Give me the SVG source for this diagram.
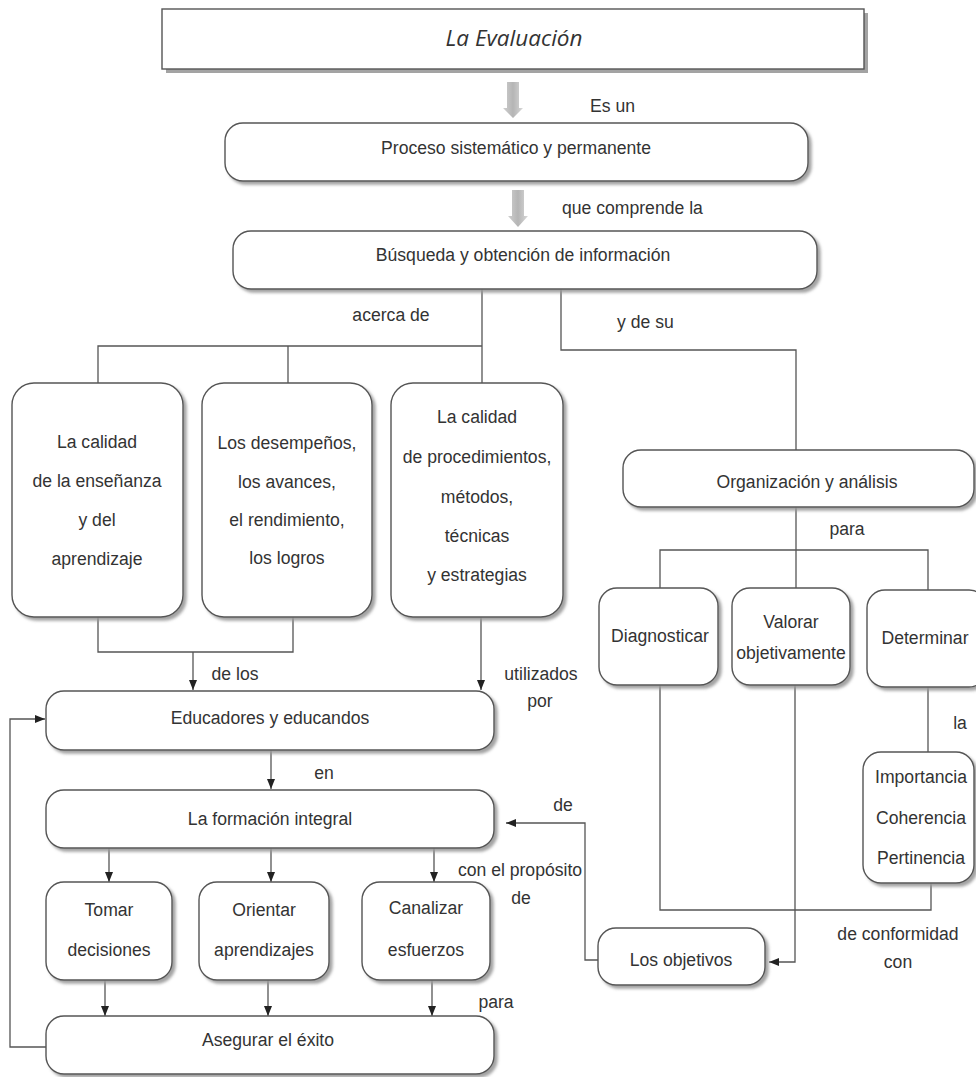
<svg xmlns="http://www.w3.org/2000/svg" width="976" height="1077" viewBox="0 0 976 1077">
<defs>
<style>
.box{fill:#fff;stroke:#555;stroke-width:1.4;filter:url(#sh)}
.t{font-family:'Liberation Sans',Arial,sans-serif;font-size:17.6px;fill:#333;text-anchor:middle}
.l{font-family:'Liberation Sans',Arial,sans-serif;font-size:17.6px;fill:#333}
.c{fill:none;stroke:#555;stroke-width:1.3}
.a{marker-end:url(#ah)}
.title{font-family:'Open Sans','DejaVu Sans',sans-serif;font-style:italic;font-size:22.5px;fill:#333;text-anchor:middle}
</style>
<filter id="sh" x="-5%" y="-5%" width="115%" height="125%">
<feDropShadow dx="3" dy="3" stdDeviation="1.5" flood-color="#999" flood-opacity="0.9"/>
</filter>
<linearGradient id="bg" x1="0" x2="1" y1="0" y2="0">
<stop offset="0" stop-color="#cfcfcf"/>
<stop offset="0.5" stop-color="#b5b5b5"/>
<stop offset="1" stop-color="#d8d8d8"/>
</linearGradient>
<marker id="ah" markerUnits="userSpaceOnUse" markerWidth="10" markerHeight="10" viewBox="0 0 10 10" refX="10" refY="5" orient="auto">
<path d="M0,1 L10,5 L0,9 Z" fill="#222"/>
</marker>
</defs>
<rect width="976" height="1077" fill="#fff"/>

<g id="connectors">
<polygon points="507,82 519,82 519,108 523,108 513,118 503,108 507,108" fill="url(#bg)"/>
<polygon points="512,190 524,190 524,216 528,216 518,227 508,216 512,216" fill="url(#bg)"/>
<path class="c" d="M482,289 V383"/>
<path class="c" d="M98,383 V346 H482"/>
<path class="c" d="M288,346 V383"/>
<path class="c" d="M561,289 V350 H796 V450"/>
<path class="c" d="M98,617 V652 H293 V617"/>
<path class="c a" d="M193,652 V690"/>
<path class="c a" d="M481,617 V690"/>
<path class="c a" d="M271,750 V789"/>
<path class="c a" d="M109,848 V882"/>
<path class="c a" d="M271,848 V882"/>
<path class="c a" d="M434,848 V882"/>
<path class="c a" d="M105,980 V1016"/>
<path class="c a" d="M268,980 V1016"/>
<path class="c a" d="M432,980 V1016"/>
<path class="c a" d="M46,1047 H10 V719 H45"/>
<path class="c" d="M796,507 V588"/>
<path class="c" d="M660,588 V550 H928 V590"/>
<path class="c" d="M928,687 V752"/>
<path class="c" d="M660,685 V910 H931 V883"/>
<path class="c a" d="M795,685 V962 H769"/>
<path class="c a" d="M598,960 H585 V823 H506"/>
</g>

<g id="n-title">
<rect x="166" y="13" width="702" height="60" fill="#a3a3a3"/>
<rect x="162" y="9" width="702" height="60" fill="#fff" stroke="#555" stroke-width="1.4"/>
<text class="title" x="514" y="46">La Evaluación</text>
</g>
<g id="n-proceso">
<rect class="box" x="225" y="123" width="583" height="58" rx="18"/>
<text class="t" x="516" y="154">Proceso sistemático y permanente</text>
</g>
<g id="n-busqueda">
<rect class="box" x="233" y="231" width="584" height="58" rx="18"/>
<text class="t" x="523" y="261">Búsqueda y obtención de información</text>
</g>
<g id="n-calidad-ens">
<rect class="box" x="12" y="383" width="171" height="234" rx="22"/>
<text class="t" x="97" y="448">La calidad</text>
<text class="t" x="97" y="487">de la enseñanza</text>
<text class="t" x="97" y="526">y del</text>
<text class="t" x="97" y="565">aprendizaje</text>
</g>
<g id="n-desempenos">
<rect class="box" x="202" y="383" width="170" height="234" rx="22"/>
<text class="t" x="287" y="449">Los desempeños,</text>
<text class="t" x="287" y="488">los avances,</text>
<text class="t" x="287" y="526">el rendimiento,</text>
<text class="t" x="287" y="564">los logros</text>
</g>
<g id="n-calidad-proc">
<rect class="box" x="391" y="383" width="172" height="234" rx="22"/>
<text class="t" x="477" y="423">La calidad</text>
<text class="t" x="477" y="463">de procedimientos,</text>
<text class="t" x="477" y="503">métodos,</text>
<text class="t" x="477" y="542">técnicas</text>
<text class="t" x="477" y="581">y estrategias</text>
</g>
<g id="n-educadores">
<rect class="box" x="46" y="691" width="448" height="59" rx="18"/>
<text class="t" x="270" y="724">Educadores y educandos</text>
</g>
<g id="n-formacion">
<rect class="box" x="46" y="790" width="448" height="58" rx="18"/>
<text class="t" x="270" y="825">La formación integral</text>
</g>
<g id="n-tomar">
<rect class="box" x="46" y="882" width="126" height="98" rx="18"/>
<text class="t" x="109" y="916">Tomar</text>
<text class="t" x="109" y="956">decisiones</text>
</g>
<g id="n-orientar">
<rect class="box" x="199" y="882" width="130" height="98" rx="18"/>
<text class="t" x="264" y="916">Orientar</text>
<text class="t" x="264" y="956">aprendizajes</text>
</g>
<g id="n-canalizar">
<rect class="box" x="362" y="882" width="128" height="98" rx="18"/>
<text class="t" x="426" y="914">Canalizar</text>
<text class="t" x="426" y="956">esfuerzos</text>
</g>
<g id="n-asegurar">
<rect class="box" x="46" y="1016" width="448" height="58" rx="18"/>
<text class="t" x="268" y="1046">Asegurar el éxito</text>
</g>
<g id="n-organizacion">
<rect class="box" x="623" y="450" width="351" height="57" rx="18"/>
<text class="t" x="807" y="488">Organización y análisis</text>
</g>
<g id="n-diagnosticar">
<rect class="box" x="599" y="588" width="119" height="97" rx="18"/>
<text class="t" x="660" y="642">Diagnosticar</text>
</g>
<g id="n-valorar">
<rect class="box" x="732" y="588" width="118" height="97" rx="18"/>
<text class="t" x="791" y="628">Valorar</text>
<text class="t" x="791" y="659">objetivamente</text>
</g>
<g id="n-determinar">
<rect class="box" x="867" y="590" width="120" height="97" rx="18"/>
<text class="t" x="925" y="644">Determinar</text>
</g>
<g id="n-importancia">
<rect class="box" x="863" y="752" width="111" height="131" rx="18"/>
<text class="t" x="921" y="783">Importancia</text>
<text class="t" x="921" y="824">Coherencia</text>
<text class="t" x="921" y="864">Pertinencia</text>
</g>
<g id="n-objetivos">
<rect class="box" x="598" y="928" width="167" height="57" rx="18"/>
<text class="t" x="681" y="966">Los objetivos</text>
</g>

<g id="labels">
<text class="l" x="590" y="112">Es un</text>
<text class="l" x="562" y="214">que comprende la</text>
<text class="t" x="391" y="321">acerca de</text>
<text class="l" x="617" y="328">y de su</text>
<text class="t" x="235" y="680">de los</text>
<text class="t" x="541" y="680">utilizados</text>
<text class="t" x="540" y="707">por</text>
<text class="t" x="324" y="779">en</text>
<text class="t" x="563" y="811">de</text>
<text class="t" x="520" y="876">con el propósito</text>
<text class="t" x="521" y="904">de</text>
<text class="t" x="496" y="1008">para</text>
<text class="t" x="847" y="535">para</text>
<text class="t" x="960" y="729">la</text>
<text class="t" x="898" y="940">de conformidad</text>
<text class="t" x="898" y="968">con</text>
</g>
</svg>
